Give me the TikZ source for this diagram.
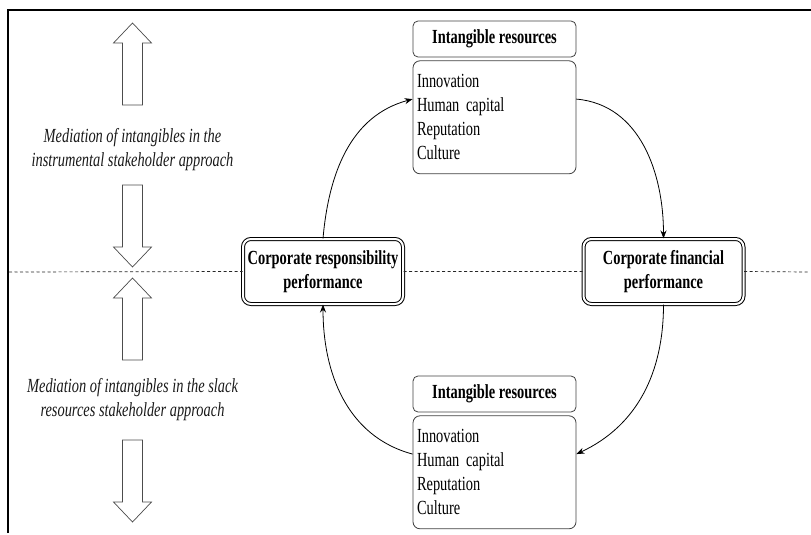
\documentclass[tikz,border=0pt]{standalone}
\usepackage{fontspec}
\setmainfont{Liberation Serif}[FakeStretch=0.72]
\usepackage{tikz}
\usetikzlibrary{positioning,calc,arrows.meta}
\definecolor{boxGrey}{rgb}{0.25,0.25,0.25}
\newcommand{\figFont}{\fontsize{20}{24}\selectfont}

\tikzset{
  headBox/.style={draw=boxGrey, line width=0.8pt, rounded corners=5pt, minimum width=163pt, minimum height=36pt, inner sep=0pt, font=\figFont\bfseries},
  listBox/.style={draw=boxGrey, line width=0.8pt, rounded corners=7pt, minimum height=113pt, text width=155pt, inner xsep=4pt, align=left, font=\figFont},
  perfBox/.style={draw, double, double distance=2pt, line width=1pt, rounded corners=8pt, minimum width=160pt, minimum height=65pt, align=center, fill=white, font=\figFont\bfseries},
  noteText/.style={align=center, text=black!90, font=\figFont\itshape},
  flow/.style={-{Stealth[length=8pt,width=6pt]}, line width=0.8pt},
  hollowArrow/.style={draw=black!70, line width=0.7pt, fill=white},
  splitLine/.style={draw=black!85, line width=0.7pt, dash pattern=on 3pt off 2.5pt}
}

\begin{document}
\begin{tikzpicture}[x=1pt, y=1pt]
	\useasboundingbox (0,0) rectangle (811,-535);
	\draw[line width=2pt] (8,-533) -- (8,-10) -- (811,-10);
	% hollow arrows on the left
	\foreach \tip/\base/\tail in {23/43/105, 267/247/185, 278/298/360, 522/502/440}
		\draw[hollowArrow] (122.5,-\tail) -- (122.5,-\base) -- (113.5,-\base) -- (132.5,-\tip) -- (151.5,-\base) -- (142.5,-\base) -- (142.5,-\tail) -- cycle;
	\node[noteText] (noteTop) at (132.5,-150) {Mediation of intangibles in the\\instrumental stakeholder approach};
	\node[noteText] (noteBottom) at (132.5,-400) {Mediation of intangibles in the slack\\resources stakeholder approach};

	\node[perfBox] (crp) at (323,-271.5) {Corporate responsibility\\performance};
	\node[perfBox] (cfp) at (663.5,-271.5) {Corporate financial\\performance};
	\coordinate (splitLeft) at (9,-272);
	\coordinate (splitRight) at (808,-272);
	\draw[splitLine] (splitLeft) -- (crp.west) (crp.east) -- (cfp.west) (cfp.east) -- (splitRight);

	\node[headBox] (topHead) at (494.5,-39) {Intangible resources};
	\node[listBox, below=3pt of topHead] (topList) {Innovation\\Human capital\\Reputation\\Culture};
	\node[headBox] (bottomHead) at (494.5,-394) {Intangible resources};
	\node[listBox, below=3pt of bottomHead] (bottomList) {Innovation\\Human capital\\Reputation\\Culture};

	\draw[flow] (crp.north) to[out=85,in=195] ($(topList.north west)!0.34!(topList.south west)$);
	\draw[flow] ($(topList.north east)!0.34!(topList.south east)$) to[out=-5,in=90] (cfp.north);
	\draw[flow] (cfp.south) to[out=-90,in=25] ($(bottomList.north east)!0.34!(bottomList.south east)$);
	\draw[flow] ($(bottomList.north west)!0.34!(bottomList.south west)$) to[out=165,in=-90] (crp.south);
\end{tikzpicture}
\end{document}
